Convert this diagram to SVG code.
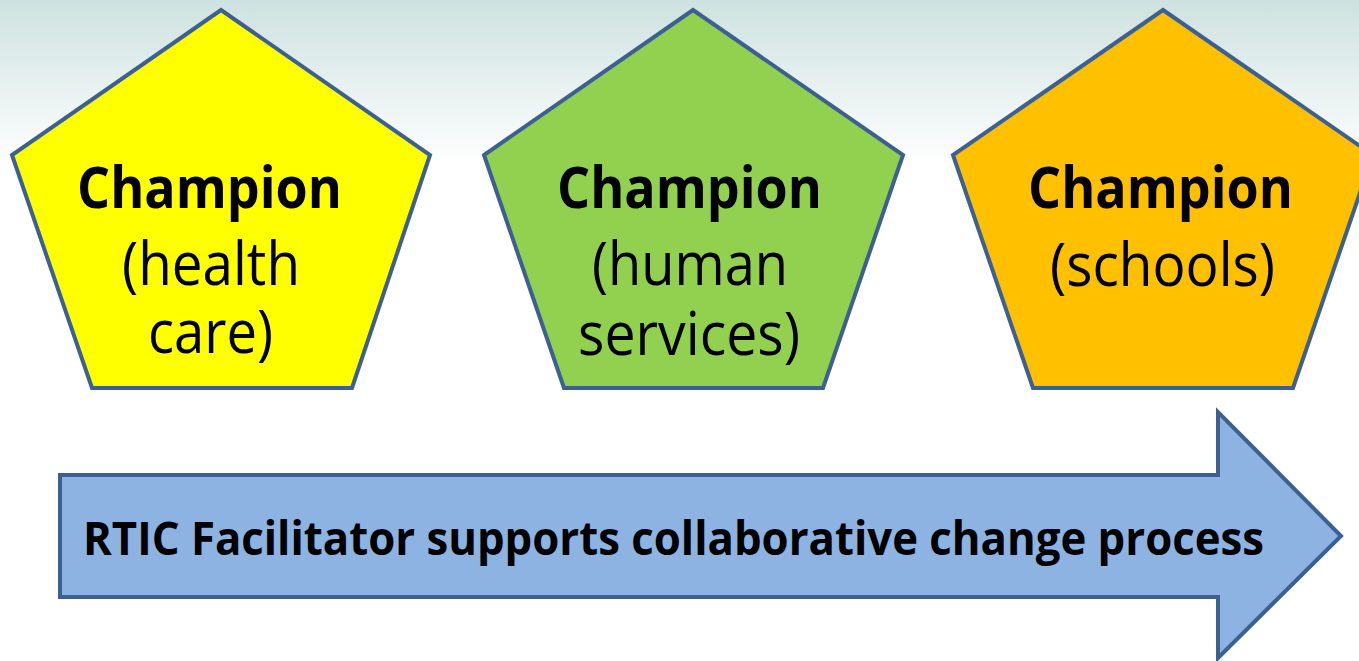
<svg xmlns="http://www.w3.org/2000/svg" width="1359" height="661" viewBox="0 0 1359 661">
<defs>
<linearGradient id="bg" x1="0" y1="0" x2="0" y2="1">
<stop offset="0" stop-color="#cde2e0"/>
<stop offset="1" stop-color="#ffffff"/>
</linearGradient>
<style>
.pent{stroke:#3c6091;stroke-width:4;stroke-linejoin:miter}
.b{font-family:"Open Sans","Liberation Sans",sans-serif;font-weight:bold;font-size:57px;fill:#000}
.r{font-family:"Open Sans","Liberation Sans",sans-serif;font-weight:normal;font-size:60px;fill:#000}
.ab{font-family:"Open Sans","Liberation Sans",sans-serif;font-weight:bold;font-size:47px;fill:#000}
</style>
</defs>
<rect x="0" y="0" width="1359" height="661" fill="#ffffff"/>
<rect x="0" y="0" width="1359" height="165" fill="url(#bg)"/>
<g id="champion-health">
<polygon class="pent" fill="#ffff00" points="221,10 430,155 352,388 92,388 12,155"/>
<text class="b" x="77" y="208" textLength="265" lengthAdjust="spacingAndGlyphs">Champion</text>
<text class="r" x="122" y="285" textLength="178" lengthAdjust="spacingAndGlyphs">(health</text>
<text class="r" x="148" y="353" textLength="125" lengthAdjust="spacingAndGlyphs">care)</text>
</g>
<g id="champion-human">
<polygon class="pent" fill="#92d050" points="693,10 903,155 823,388 564,388 484,155"/>
<text class="b" x="557" y="208" textLength="265" lengthAdjust="spacingAndGlyphs">Champion</text>
<text class="r" x="592" y="285" textLength="196" lengthAdjust="spacingAndGlyphs">(human</text>
<text class="r" x="578" y="355" textLength="222" lengthAdjust="spacingAndGlyphs">services)</text>
</g>
<g id="champion-schools">
<polygon class="pent" fill="#ffc000" points="1163,10 1373,155 1293,388 1033,388 953,155"/>
<text class="b" x="1028" y="208" textLength="265" lengthAdjust="spacingAndGlyphs">Champion</text>
<text class="r" x="1050" y="286" textLength="225" lengthAdjust="spacingAndGlyphs">(schools)</text>
</g>
<g id="connectors">
<g id="rtic-arrow">
<polygon fill="#8db3e2" stroke="#3c6091" stroke-width="4" stroke-linejoin="miter" points="60,475 1218,475 1218,412 1341,536 1218,658 1218,597 60,597"/>
<text class="ab" x="83" y="555" textLength="1181" lengthAdjust="spacingAndGlyphs">RTIC Facilitator supports collaborative change process</text>
</g>
</g>
</svg>
